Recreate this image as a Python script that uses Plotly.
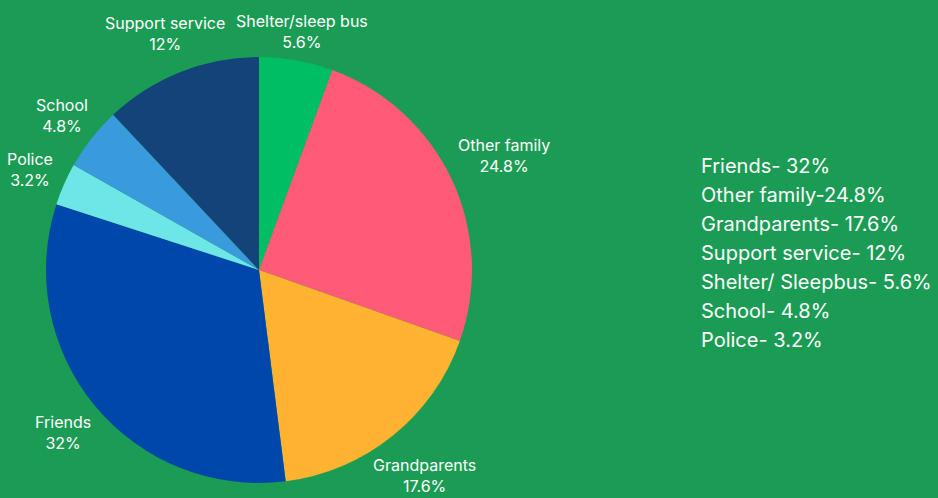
import math
import plotly.graph_objects as go

labels = ["Shelter/sleep bus", "Other family", "Grandparents", "Friends", "Police", "School", "Support service"]
values = [5.6, 24.8, 17.6, 32, 3.2, 4.8, 12]
colors = ["#00bf63", "#ff5b76", "#ffb330", "#0047ab", "#6ee6e8", "#3a9bdc", "#134378"]
legend_lines = ["Friends- 32%", "Other family-24.8%", "Grandparents- 17.6%", "Support service- 12%",
                "Shelter/ Sleepbus- 5.6%", "School- 4.8%", "Police- 3.2%"]

W, H = 938, 498
cx, cy, r = 259, 270, 213
BG = "#1b9c55"
FONT = "Inter, Roboto, sans-serif"

fig = go.Figure(go.Pie(
    labels=labels, values=values, sort=False, direction="clockwise", rotation=0,
    marker=dict(colors=colors, line=dict(width=0)),
    textinfo="none", hoverinfo="label+value",
    showlegend=False, automargin=False,
    domain=dict(x=[(cx - r) / W, (cx + r) / W], y=[(H - cy - r) / H, (H - cy + r) / H]),
))

# outside slice labels, placed along each slice's mid-angle just beyond the rim
total = sum(values)
cum = 0.0
char_w, half_h, clearance = 7.7, 17.5, r + 9
for lab, v in zip(labels, values):
    mid = (cum + v / 2) / total * 2 * math.pi
    cum += v
    dx, dy = math.sin(mid), -math.cos(mid)
    text = f"{lab}<br>{v:g}%"
    half_w = max(len(lab), len(f"{v:g}%")) * char_w / 2
    lo, hi = 0.0, 600.0
    for _ in range(60):
        t = (lo + hi) / 2
        X, Y = abs(t * dx), abs(t * dy)
        d = math.hypot(max(0.0, X - half_w), max(0.0, Y - half_h))
        if d < clearance:
            lo = t
        else:
            hi = t
    bx, by = cx + t * dx, cy + t * dy + 0.5
    fig.add_annotation(x=bx, y=by, xref="x", yref="y", text=text, showarrow=False,
                       xanchor="center", yanchor="middle", align="center",
                       font=dict(family=FONT, size=16, color="white"))

for i, t in enumerate(legend_lines):
    fig.add_annotation(x=699, y=166 + i * 29, xref="x", yref="y", text=t, showarrow=False,
                       xanchor="left", yanchor="middle",
                       font=dict(family=FONT, size=20, color="white"))

fig.update_layout(
    width=W, height=H, margin=dict(l=0, r=0, t=0, b=0),
    paper_bgcolor=BG, plot_bgcolor=BG,
    xaxis=dict(range=[0, W], visible=False, domain=[0, 1], fixedrange=True),
    yaxis=dict(range=[H, 0], visible=False, domain=[0, 1], fixedrange=True),
)
fig.write_html("out.html", config={"displayModeBar": False},
               post_script="document.body.style.margin='0';document.body.style.background='" + BG + "';")
